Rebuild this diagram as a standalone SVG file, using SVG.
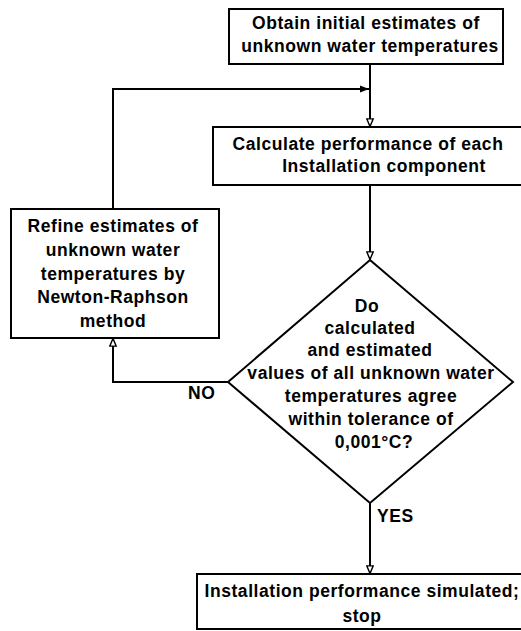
<svg xmlns="http://www.w3.org/2000/svg" width="521" height="631" viewBox="0 0 521 631">
<defs>
<style>
.box{fill:#fff;stroke:#000;stroke-width:2}
.ln{fill:none;stroke:#000;stroke-width:2}
text{font-family:"Liberation Sans",Arial,sans-serif;font-size:17.5px;font-weight:bold;fill:#000;text-anchor:middle;letter-spacing:0.55px}
.lbl{text-anchor:start}
</style>
<marker id="open" viewBox="0 0 10 10" refX="10" refY="5" markerWidth="9" markerHeight="9" markerUnits="userSpaceOnUse" orient="auto">
<path d="M1,1.5 L9.5,5 L1,8.5 Z" fill="#fff" stroke="#000" stroke-width="1.6"/>
</marker>
<marker id="solid" viewBox="0 0 10 10" refX="10" refY="5" markerWidth="11" markerHeight="9" markerUnits="userSpaceOnUse" orient="auto">
<path d="M0,1 L10,5 L0,9 Z" fill="#000"/>
</marker>
</defs>
<rect width="521" height="631" fill="#fff"/>
<g id="connectors">
<path class="ln" d="M370,64 L370,127" marker-end="url(#open)"/>
<path class="ln" d="M113,209 L113,89 L369,89" marker-end="url(#solid)"/>
<path class="ln" d="M370,185 L370,260" marker-end="url(#open)"/>
<path class="ln" d="M228,382 L113,382 L113,338" marker-end="url(#open)"/>
<path class="ln" d="M370,503 L370,574" marker-end="url(#open)"/>
</g>
<g id="start">
<rect class="box" x="229" y="9" width="274" height="55"/>
<text x="366" y="29">Obtain initial estimates of</text>
<text x="370" y="52">unknown water temperatures</text>
</g>
<g id="calculate">
<rect class="box" x="213" y="127" width="320" height="58"/>
<text x="368" y="150">Calculate performance of each</text>
<text x="384" y="172">Installation component</text>
</g>
<g id="refine">
<rect class="box" x="11" y="209" width="208" height="129"/>
<text x="113" y="232">Refine estimates of</text>
<text x="113" y="256">unknown water</text>
<text x="113" y="280">temperatures by</text>
<text x="113" y="303">Newton-Raphson</text>
<text x="113" y="327">method</text>
</g>
<g id="decision">
<polygon class="box" points="370,260 513,382 370,503 228,382"/>
<text x="367" y="312">Do</text>
<text x="370" y="334">calculated</text>
<text x="370" y="356">and estimated</text>
<text x="371" y="379">values of all unknown water</text>
<text x="371" y="402">temperatures agree</text>
<text x="371" y="425">within tolerance of</text>
<text x="374" y="448">0,001°C?</text>
</g>
<g id="labels">
<text class="lbl" x="188" y="399">NO</text>
<text class="lbl" x="377" y="522">YES</text>
</g>
<g id="end">
<rect class="box" x="197" y="574" width="340" height="55"/>
<text x="362" y="597">Installation performance simulated;</text>
<text x="362" y="622">stop</text>
</g>
</svg>
